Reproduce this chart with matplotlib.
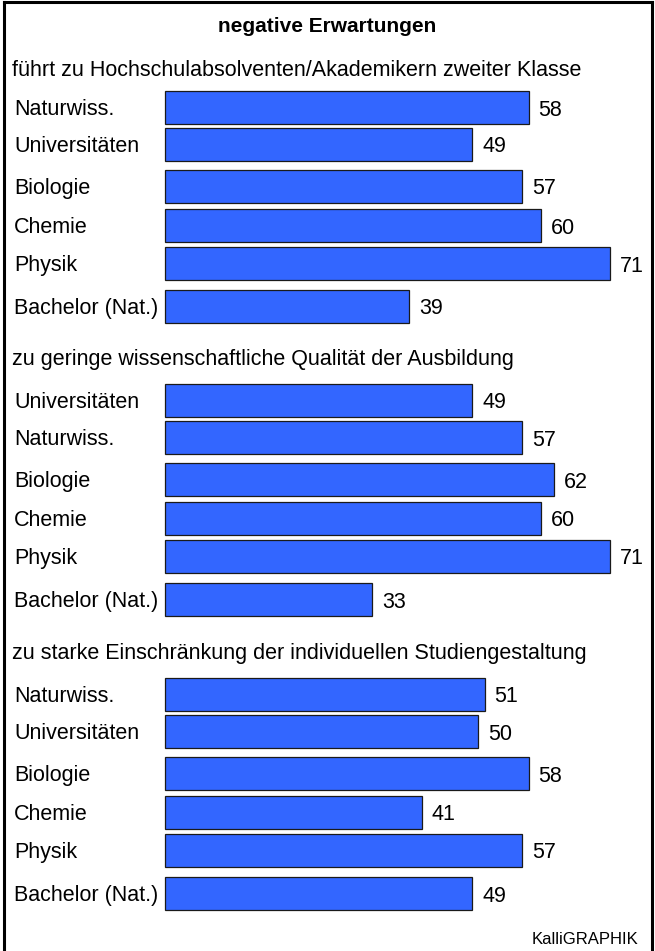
import matplotlib
matplotlib.use("Agg")
import matplotlib.pyplot as plt
from matplotlib.lines import Line2D
import matplotlib.transforms as mtransforms

plt.rcParams['font.family'] = ['Liberation Sans', 'DejaVu Sans']

title = "negative Erwartungen"
sections = [
    "führt zu Hochschulabsolventen/Akademikern zweiter Klasse",
    "zu geringe wissenschaftliche Qualität der Ausbildung",
    "zu starke Einschränkung der individuellen Studiengestaltung",
]
labels_1 = ["Naturwiss.", "Universitäten", "Biologie", "Chemie", "Physik", "Bachelor (Nat.)"]
values_1 = [58, 49, 57, 60, 71, 39]
labels_2 = ["Universitäten", "Naturwiss.", "Biologie", "Chemie", "Physik", "Bachelor (Nat.)"]
values_2 = [49, 57, 62, 60, 71, 33]
labels_3 = ["Naturwiss.", "Universitäten", "Biologie", "Chemie", "Physik", "Bachelor (Nat.)"]
values_3 = [51, 50, 58, 41, 57, 49]
credit = "KalliGRAPHIK"

W, H = 655, 951
fig = plt.figure(figsize=(W / 100, H / 100), dpi=100)
ax = fig.add_axes([0, 0, 1, 1])

# x in value units: 0 sits at 165 px, 71 at 610 px
scale = 445 / 71
ax.set_xlim(-165 / scale, (W - 165) / scale)
ax.set_ylim(H, 0)
ax.axis("off")

label_tf = mtransforms.blended_transform_factory(fig.transFigure, ax.transData)

# row offsets inside a section (two groups of rows separated by wider gaps)
row_offsets = [0, 37, 79, 118, 156, 199]
header_y = [70, 359, 653]
first_gap = [37, 41, 41]
bar_h = 33
fs = 15.5

ax.text(0.5, 26, title, transform=label_tf, ha="center", va="center",
        fontsize=15, fontweight="bold")

for sec, (head, labs, vals) in enumerate(zip(sections,
                                             [labels_1, labels_2, labels_3],
                                             [values_1, values_2, values_3])):
    hy = header_y[sec]
    ax.text(12 / W, hy, head, transform=label_tf, ha="left", va="center", fontsize=fs)
    ys = [hy + first_gap[sec] + o for o in row_offsets]
    ax.barh(ys, vals, height=bar_h, left=0, color="#3366FF",
            edgecolor="#1a1a1a", linewidth=0.9)
    for y, lab, v in zip(ys, labs, vals):
        ax.text(14 / W, y + 2.5, lab, transform=label_tf, ha="left", va="center", fontsize=fs)
        ax.text(v + 10 / scale, y + 3, f"{v}", ha="left", va="center", fontsize=fs)

ax.text(638 / W, 939, credit, transform=label_tf, ha="right", va="center", fontsize=12)

# frame: top, left and right edges
lw = 2.2
fig.add_artist(Line2D([4 / W, 652 / W], [1 - 2 / H, 1 - 2 / H], color="black", lw=lw))
fig.add_artist(Line2D([4 / W, 4 / W], [1 - 2 / H, 0], color="black", lw=lw))
fig.add_artist(Line2D([652 / W, 652 / W], [1 - 2 / H, 0], color="black", lw=lw))

fig.savefig("out.png", dpi=100)
